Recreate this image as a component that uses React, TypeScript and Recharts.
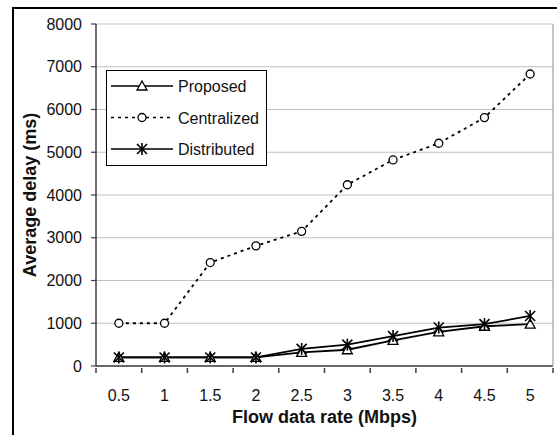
import React from 'react';
import { LineChart, Line, XAxis, YAxis, CartesianGrid } from 'recharts';

const rates = ['0.5', '1', '1.5', '2', '2.5', '3', '3.5', '4', '4.5', '5'];
const proposed = [200, 200, 200, 200, 320, 380, 600, 800, 930, 980];
const centralized = [1000, 1000, 2420, 2810, 3150, 4240, 4820, 5210, 5810, 6830];
const distributed = [200, 200, 200, 200, 400, 500, 700, 900, 980, 1170];
const yTicks = [0, 1000, 2000, 3000, 4000, 5000, 6000, 7000, 8000];
const seriesNames = ['Proposed', 'Centralized', 'Distributed'];

const data = rates.map((rate, i) => ({
  rate,
  proposed: proposed[i],
  centralized: centralized[i],
  distributed: distributed[i],
}));

const W = 557;
const H = 435;
const Y_W = 96;
const MARGIN = { top: 24, right: 3, left: 0, bottom: 0 };
const FONT = '"Liberation Sans", Arial, sans-serif';
const AXIS = '#404040';
const bandW = (W - Y_W - MARGIN.right - 1) / rates.length;

const TriangleDot = (props: any) => {
  const { cx, cy } = props;
  if (cx == null || cy == null) return null;
  return (
    <path
      d={`M${cx},${cy - 5} L${cx + 5},${cy + 4} L${cx - 5},${cy + 4} Z`}
      fill='#fff'
      stroke='#000'
      strokeWidth={1.3}
    />
  );
};

const CircleDot = (props: any) => {
  const { cx, cy } = props;
  if (cx == null || cy == null) return null;
  return <circle cx={cx} cy={cy} r={4} fill='#fff' stroke='#000' strokeWidth={1.3} />;
};

const StarDot = (props: any) => {
  const { cx, cy } = props;
  if (cx == null || cy == null) return null;
  return (
    <g stroke='#000' strokeWidth={1.6}>
      <line x1={cx - 5} y1={cy - 5} x2={cx + 5} y2={cy + 5} />
      <line x1={cx + 5} y1={cy - 5} x2={cx - 5} y2={cy + 5} />
      <line x1={cx} y1={cy - 6} x2={cx} y2={cy + 6} />
    </g>
  );
};

const XTick = (props: any) => {
  const { x, y, payload, index } = props;
  const left = x - bandW / 2;
  const right = x + bandW / 2;
  return (
    <g>
      <line x1={left} y1={y} x2={left} y2={y + 5} stroke={AXIS} strokeWidth={1.5} />
      {index === rates.length - 1 ? (
        <line x1={right} y1={y} x2={right} y2={y + 5} stroke={AXIS} strokeWidth={1.5} />
      ) : null}
      <text x={x} y={y + 33} textAnchor='middle' fontSize={16} fontFamily={FONT} fill='#111'>
        {payload.value}
      </text>
    </g>
  );
};

const LegendBox = () => {
  const dots = [TriangleDot, CircleDot, StarDot];
  const dashes = [undefined, '3 4', undefined];
  return (
    <svg width={162} height={97} style={{ position: 'absolute', left: 106, top: 70 }}>
      <rect x={0.5} y={0.5} width={160} height={95} fill='#fff' stroke='#000' strokeWidth={1} />
      {seriesNames.map((name, i) => {
        const cy = 16 + i * 31.5;
        const Dot = dots[i];
        return (
          <g key={name}>
            <line x1={5} y1={cy} x2={67} y2={cy} stroke='#000' strokeWidth={1.6} strokeDasharray={dashes[i]} />
            <Dot cx={36} cy={cy} />
            <text x={72} y={cy + 6} fontSize={16} fontFamily={FONT} fill='#111'>
              {name}
            </text>
          </g>
        );
      })}
    </svg>
  );
};

const YLabel = (props: any) => {
  const { viewBox } = props;
  const cx = viewBox.x + 30;
  const cy = viewBox.y + viewBox.height / 2;
  return (
    <text
      x={cx}
      y={cy}
      transform={`rotate(-90 ${cx} ${cy})`}
      textAnchor='middle'
      dominantBaseline='central'
      fontSize={18}
      fontWeight='bold'
      fontFamily={FONT}
      fill='#111'
    >
      Average delay (ms)
    </text>
  );
};

const App: React.FC = () => {
  return (
    <div style={{ position: 'absolute', left: 0, top: 0, width: W, height: H, background: '#fff' }}>
      <div
        style={{
          position: 'absolute',
          left: 12,
          top: 7,
          width: W - 12,
          height: H - 7,
          borderTop: '2px solid #000',
          borderLeft: '2px solid #000',
          boxSizing: 'border-box',
        }}
      />
      <div style={{ position: 'absolute', left: 0, top: 0 }}>
        <LineChart width={W} height={H} data={data} margin={MARGIN}>
          <CartesianGrid vertical={false} stroke='#c0c0c0' strokeWidth={1.2} />
          <XAxis
            dataKey='rate'
            scale='band'
            height={69}
            axisLine={{ stroke: AXIS, strokeWidth: 1.5 }}
            tickLine={false}
            tickSize={0}
            tick={<XTick />}
            interval={0}
            label={{
              value: 'Flow data rate (Mbps)',
              position: 'insideBottom',
              offset: 12,
              fontSize: 18,
              fontWeight: 'bold',
              fontFamily: FONT,
              fill: '#111',
            }}
          />
          <YAxis
            width={Y_W}
            domain={[0, 8000]}
            ticks={yTicks}
            interval={0}
            axisLine={{ stroke: AXIS, strokeWidth: 1.5 }}
            tickLine={{ stroke: AXIS, strokeWidth: 1.2 }}
            tickSize={5}
            tickMargin={9}
            tick={{ fontSize: 16, fontFamily: FONT, fill: '#111' }}
            label={{ content: <YLabel /> }}
          />
          <YAxis
            yAxisId='border'
            orientation='right'
            width={1}
            domain={[0, 8000]}
            tick={false}
            tickLine={false}
            axisLine={{ stroke: '#a0a0a0', strokeWidth: 1.2 }}
          />
          <Line
            dataKey='proposed'
            name='Proposed'
            stroke='#000'
            strokeWidth={1.8}
            dot={<TriangleDot />}
            activeDot={false}
            isAnimationActive={false}
          />
          <Line
            dataKey='centralized'
            name='Centralized'
            stroke='#000'
            strokeWidth={1.8}
            strokeDasharray='3 4'
            dot={<CircleDot />}
            activeDot={false}
            isAnimationActive={false}
          />
          <Line
            dataKey='distributed'
            name='Distributed'
            stroke='#000'
            strokeWidth={1.8}
            dot={<StarDot />}
            activeDot={false}
            isAnimationActive={false}
          />
        </LineChart>
      </div>
      <LegendBox />
    </div>
  );
};

export default App;
